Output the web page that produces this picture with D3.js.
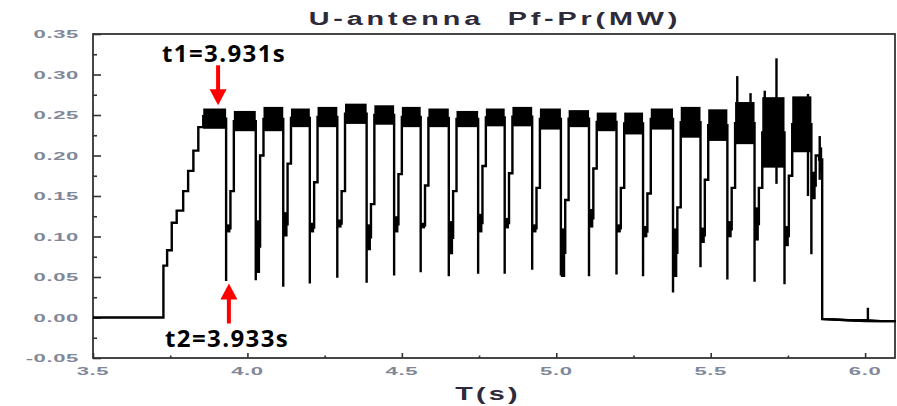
<!DOCTYPE html>
<html>
<head>
<meta charset="utf-8">
<script src="https://cdn.jsdelivr.net/npm/d3@7/dist/d3.min.js"></script>
<style>
body {margin:0; background:#fff}
svg {display:block}
</style>
</head>
<body>
<svg></svg>
<script>

var screen = {width: 897, height: 406}
var margins = {top: 34, right: 2, bottom: 48, left: 93}

// axis ticks
var xTicks = [3.5, 4.0, 4.5, 5.0, 5.5, 6.0]
var xMinor = [3.75, 4.25, 4.75, 5.25, 5.75]
var yTicks = [-0.05, 0.00, 0.05, 0.10, 0.15, 0.20, 0.25, 0.30, 0.35]
var yMinor = [-0.025, 0.025, 0.075, 0.125, 0.175, 0.225, 0.275, 0.325]

// first pulse: staircase rise
var rampT = [3.728, 3.740, 3.755, 3.771, 3.792, 3.808, 3.825, 3.841, 3.857]
var rampV = [0.064, 0.083, 0.117, 0.132, 0.156, 0.181, 0.206, 0.235, 0.250]

// modulation dips
var dipT   = [3.931, 4.027, 4.116, 4.202, 4.291, 4.386, 4.475, 4.561, 4.652, 4.747, 4.833, 4.922, 5.015, 5.106, 5.195, 5.281, 5.378, 5.467, 5.554, 5.642, 5.739, 5.826]
var dipMin = [0.045, 0.046, 0.038, 0.042, 0.049, 0.043, 0.052, 0.056, 0.051, 0.054, 0.054, 0.059, 0.052, 0.051, 0.053, 0.051, 0.031, 0.062, 0.047, 0.044, 0.041, 0.078]

// recovery after each dip: noisy band, then one step
var recLo  = [0.105, 0.055, 0.100, 0.105, 0.111, 0.083, 0.105, 0.110, 0.078, 0.105, 0.110, 0.105, 0.050, 0.111, 0.105, 0.099, 0.050, 0.092, 0.099, 0.095, 0.088, 0.146]
var recHi  = [0.115, 0.120, 0.130, 0.117, 0.121, 0.115, 0.125, 0.117, 0.119, 0.128, 0.123, 0.115, 0.110, 0.134, 0.115, 0.113, 0.110, 0.111, 0.119, 0.136, 0.113, 0.180]
var recMid = [0.156, 0.200, 0.190, 0.167, 0.156, 0.140, 0.177, 0.163, 0.156, 0.187, 0.178, 0.160, 0.145, 0.184, 0.160, 0.153, 0.136, 0.170, 0.160, 0.160, 0.175, 0.200]
var recStep = [0.014, 0.025]   // time after the dip of each step

// flat top of each pulse (noise band), first pulse + one after every dip
var platLo = [0.233, 0.230, 0.230, 0.235, 0.235, 0.239, 0.238, 0.235, 0.235, 0.235, 0.236, 0.236, 0.232, 0.235, 0.230, 0.226, 0.232, 0.222, 0.218, 0.214, 0.185, 0.204, 0.180]
var platHi = [0.258, 0.255, 0.260, 0.258, 0.260, 0.264, 0.262, 0.260, 0.258, 0.255, 0.258, 0.260, 0.258, 0.256, 0.253, 0.253, 0.258, 0.260, 0.257, 0.266, 0.272, 0.273, 0.210]

// isolated spikes [t, low, high]
var spikes = [[5.586, 0.230, 0.298], [5.629, 0.220, 0.277], [5.675, 0.230, 0.280], [5.713, 0.165, 0.320], [5.815, 0.150, 0.276], [5.853, 0.170, 0.224], [6.009, -0.004, 0.012]]

// switch off and tail
var offT = 5.861
var tailT  = [5.861, 5.900, 5.950, 6.000, 6.050, 6.100]
var tailLo = [-0.003, -0.004, -0.005, -0.006, -0.006, -0.006]
var tailHi = [-0.001, -0.001, -0.002, -0.002, -0.003, -0.003]

// annotations
var annText = ["t1=3.931s", "t2=3.933s"]
var annT = [3.905, 3.940]
var annV = [0.262, 0.042]
var annDir = [1, -1]   // 1: arrow points down, -1: up


var svg = d3.select("svg")
    .attr("width", screen.width)
    .attr("height", screen.height)

var xScale = d3.scaleLinear()
    .domain([3.5, 6.1])
    .range([margins.left, 896])
var yScale = d3.scaleLinear()
    .domain([-0.05, 0.35])
    .range([358, margins.top])

// frame
svg.append("rect")
    .attr("x", xScale(3.5))
    .attr("y", yScale(0.35))
    .attr("width", 895 - xScale(3.5))
    .attr("height", yScale(-0.05) - yScale(0.35))
    .attr("fill", "none")
    .attr("stroke", "#333")
    .attr("stroke-width", 1.8)

var axisG = svg.append("g").attr("class", "axis")

var addAxis = function(axis, tx, ty)
{
    var g = axisG.append("g")
        .attr("transform", "translate(" + tx + "," + ty + ")")
        .call(axis)
    g.select(".domain").remove()
    g.selectAll("line").attr("stroke", "#333").attr("stroke-width", 1.6)
}
addAxis(d3.axisLeft(yScale).tickValues(yTicks).tickSize(-8).tickFormat(""), margins.left, 0)
addAxis(d3.axisLeft(yScale).tickValues(yMinor).tickSize(-4).tickFormat(""), margins.left, 0)
addAxis(d3.axisBottom(xScale).tickValues(xTicks).tickSize(-5).tickFormat(""), 0, 358)
addAxis(d3.axisBottom(xScale).tickValues(xMinor).tickSize(-2.5).tickFormat(""), 0, 358)

var fmt = d3.format(".2f")
var fmt1 = d3.format(".1f")

axisG.selectAll(".ylab")
    .data(yTicks)
    .enter()
    .append("text")
    .attr("class", "ylab")
    .attr("transform", function(d){return "translate(79," + (yScale(d) + 4) + ") scale(2.1,1)"})
    .attr("text-anchor", "end")
    .text(function(d){return fmt(d).replace("\u2212", "-")})

axisG.selectAll(".xlab")
    .data(xTicks)
    .enter()
    .append("text")
    .attr("class", "xlab")
    .attr("transform", function(d){return "translate(" + xScale(d) + ",375) scale(2.1,1)"})
    .attr("text-anchor", "middle")
    .text(function(d){return fmt1(d)})

axisG.selectAll(".ylab, .xlab")
    .attr("font-family", "'Liberation Sans', Arial, sans-serif")
    .attr("font-weight", "bold")
    .attr("font-size", 10.5)
    .attr("letter-spacing", 0.3)
    .attr("fill", "#7f879a")

// titles
svg.append("text")
    .attr("transform", "translate(495,25) scale(1.6,1)")
    .attr("text-anchor", "middle")
    .attr("font-family", "'Liberation Sans', Arial, sans-serif")
    .attr("font-weight", "bold")
    .attr("font-size", 18)
    .attr("letter-spacing", 2.4)
    .style("white-space", "pre")
    .attr("fill", "#2e2a3a")
    .text("U-antenna  Pf-Pr(MW)")

svg.append("text")
    .attr("transform", "translate(488,400) scale(1.6,1)")
    .attr("text-anchor", "middle")
    .attr("font-family", "'Liberation Sans', Arial, sans-serif")
    .attr("font-weight", "bold")
    .attr("font-size", 18)
    .attr("letter-spacing", 2)
    .attr("fill", "#2e2a3a")
    .text("T(s)")

// build the trace
var pmid = function(k){return (platLo[k] + platHi[k]) / 2}
var pts = [[3.5, 0], [rampT[0], 0]]
rampT.forEach(function(t, i)
{
    if (i > 0) pts.push([t, rampV[i - 1]])
    pts.push([t, rampV[i]])
})
pts.push([rampT[rampT.length - 1], pmid(0)])
dipT.forEach(function(t, k)
{
    var rm = (recLo[k] + recHi[k]) / 2
    pts.push([t, pmid(k)])
    pts.push([t, dipMin[k]])
    pts.push([t, rm])
    pts.push([t + recStep[0], rm])
    pts.push([t + recStep[0], recMid[k]])
    pts.push([t + recStep[1], recMid[k]])
    pts.push([t + recStep[1], pmid(k + 1)])
})
pts.push([offT, pmid(platLo.length - 1)])
tailT.forEach(function(t, i){pts.push([t, (tailLo[i] + tailHi[i]) / 2])})

var plot = svg.append("g").attr("id", "graph")

// plateau bands
var platStart = function(k){return k == 0 ? rampT[rampT.length - 1] : dipT[k - 1] + recStep[1]}
var platEnd = function(k){return k < dipT.length ? dipT[k] : offT}
plot.selectAll(".plat")
    .data(platLo)
    .enter()
    .append("rect")
    .attr("class", "plat")
    .attr("x", function(d, k){return xScale(platStart(k))})
    .attr("width", function(d, k){return xScale(platEnd(k)) - xScale(platStart(k))})
    .attr("y", function(d, k){return yScale(platHi[k])})
    .attr("height", function(d, k){return yScale(platLo[k]) - yScale(platHi[k])})
    .attr("fill", "#000")

// recovery bands
plot.selectAll(".rec")
    .data(dipT)
    .enter()
    .append("rect")
    .attr("class", "rec")
    .attr("x", function(d){return xScale(d)})
    .attr("width", function(d){return xScale(d + recStep[0]) - xScale(d)})
    .attr("y", function(d, k){return yScale(recHi[k])})
    .attr("height", function(d, k){return yScale(recLo[k]) - yScale(recHi[k])})
    .attr("fill", "#000")

// tail noise band
plot.append("path")
    .datum(tailT)
    .attr("d", d3.area()
        .x(function(d){return xScale(d)})
        .y0(function(d, i){return yScale(tailLo[i])})
        .y1(function(d, i){return yScale(tailHi[i])}))
    .attr("fill", "#000")

var lineGenerator = d3.line()
    .x(function(d){return xScale(d[0])})
    .y(function(d){return yScale(d[1])})

plot.append("path")
    .datum(pts)
    .attr("d", lineGenerator)
    .attr("fill", "none")
    .attr("stroke", "#000")
    .attr("stroke-width", 2.4)

plot.selectAll(".spike")
    .data(spikes)
    .enter()
    .append("line")
    .attr("class", "spike")
    .attr("x1", function(d){return xScale(d[0])})
    .attr("x2", function(d){return xScale(d[0])})
    .attr("y1", function(d){return yScale(d[1])})
    .attr("y2", function(d){return yScale(d[2])})
    .attr("stroke", "#000")
    .attr("stroke-width", 2.4)

// annotations
var ann = svg.append("g").attr("id", "annotations")
annT.forEach(function(t, i)
{
    var tx = xScale(t), ty = yScale(annV[i]), dir = annDir[i]
    ann.append("line")
        .attr("x1", tx).attr("x2", tx)
        .attr("y1", ty - dir * 14)
        .attr("y2", ty - dir * 40)
        .attr("stroke", "#ff0000")
        .attr("stroke-width", 4)
    ann.append("path")
        .attr("d", "M" + tx + "," + ty + "L" + (tx - 8.5) + "," + (ty - dir * 16) + "L" + (tx + 8.5) + "," + (ty - dir * 16) + "Z")
        .attr("fill", "#ff0000")
})
ann.append("text").attr("x", 162).attr("y", 62).text(annText[0])
ann.append("text").attr("x", 165).attr("y", 347).text(annText[1])
ann.selectAll("text")
    .attr("font-family", "'Open Sans', sans-serif")
    .attr("font-weight", "bold")
    .attr("font-size", 24)
    .attr("letter-spacing", 1.4)
    .attr("fill", "#000")

</script>
</body>
</html>
